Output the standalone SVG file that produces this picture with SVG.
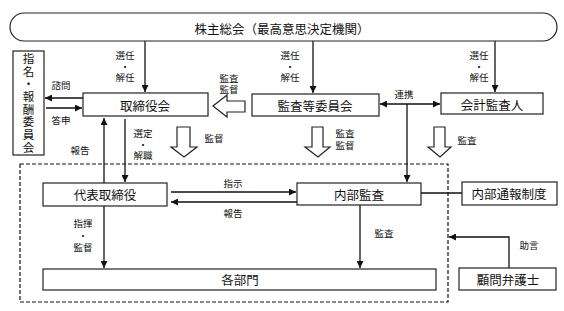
<svg xmlns="http://www.w3.org/2000/svg" width="564" height="311" viewBox="0 0 564 311">
<defs>
<style>
text{font-family:"Noto Sans CJK JP","Noto Sans CJK SC",sans-serif;fill:#111;}
.b{font-size:12.5px;text-anchor:middle;dominant-baseline:central;}
.v{font-size:11.5px;text-anchor:middle;writing-mode:vertical-rl;letter-spacing:1.2px;}
.s{font-family:"Liberation Sans","Noto Sans CJK JP",sans-serif;font-size:9.5px;text-anchor:middle;dominant-baseline:central;}
.box{fill:#fff;stroke:#222;stroke-width:1.2;}
.ln{fill:none;stroke:#111;stroke-width:1.3;}
.blk{fill:#fff;stroke:#222;stroke-width:1.2;stroke-linejoin:miter;}
.dash{fill:none;stroke:#111;stroke-width:1.2;stroke-dasharray:4,2;}
</style>
<marker id="ah" viewBox="0 0 10 10" refX="10" refY="5" markerWidth="7" markerHeight="7" markerUnits="userSpaceOnUse" orient="auto-start-reverse">
<path d="M0,0 L10,5 L0,10 z" fill="#111"/>
</marker>
</defs>
<rect width="564" height="311" fill="#fff"/>

<rect class="dash" x="20" y="164" width="428" height="138"/>

<g id="connectors">
<line class="ln" x1="145" y1="41" x2="145" y2="92" marker-end="url(#ah)"/>
<line class="ln" x1="313" y1="41" x2="313" y2="93" marker-end="url(#ah)"/>
<line class="ln" x1="495" y1="41" x2="495" y2="92" marker-end="url(#ah)"/>
<line class="ln" x1="83" y1="98" x2="45" y2="98" marker-end="url(#ah)"/>
<line class="ln" x1="46" y1="108" x2="82" y2="108" marker-end="url(#ah)"/>
<line class="ln" x1="380" y1="104" x2="440" y2="104" marker-start="url(#ah)" marker-end="url(#ah)"/>
<line class="ln" x1="407" y1="104" x2="407" y2="182" marker-end="url(#ah)"/>
<line class="ln" x1="104" y1="183" x2="104" y2="118" marker-end="url(#ah)"/>
<line class="ln" x1="125" y1="119" x2="125" y2="182" marker-end="url(#ah)"/>
<line class="ln" x1="171" y1="192" x2="296" y2="192" marker-end="url(#ah)"/>
<line class="ln" x1="297" y1="202" x2="171" y2="202" marker-end="url(#ah)"/>
<line class="ln" x1="421" y1="193" x2="462" y2="193"/>
<line class="ln" x1="104" y1="206" x2="104" y2="268" marker-end="url(#ah)"/>
<line class="ln" x1="360" y1="205" x2="360" y2="268" marker-end="url(#ah)"/>
<polyline class="ln" points="509,268 509,237 449,237" marker-end="url(#ah)"/>
<path class="blk" d="M213,106 L227,95 L227,101 L245,101 L245,112 L227,112 L227,117 Z"/>
<path class="blk" d="M177,127 L190,127 L190,147 L197,147 L184,157 L171,147 L177,147 Z"/>
<path class="blk" d="M312,127 L323,127 L323,147 L330,147 L318,157 L305,147 L312,147 Z"/>
<path class="blk" d="M434,127 L445,127 L445,147 L451,147 L440,157 L428,147 L434,147 Z"/>
</g>

<g id="shareholders">
<rect class="box" x="10" y="13" width="547" height="28" rx="14" ry="14"/>
<text class="b" x="282" y="28">株主総会（最高意思決定機関）</text>
</g>
<g id="nomination">
<rect class="box" x="13" y="51" width="31" height="104"/>
<text class="v" x="28.5" y="103.5">指名・報酬委員会</text>
</g>
<g id="board">
<rect class="box" x="83" y="93" width="125" height="23"/>
<text class="b" x="145" y="105">取締役会</text>
</g>
<g id="auditcommittee">
<rect class="box" x="252" y="94" width="127" height="22"/>
<text class="b" x="315" y="105">監査等委員会</text>
</g>
<g id="accountingauditor">
<rect class="box" x="441" y="93" width="102" height="21"/>
<text class="b" x="492" y="104">会計監査人</text>
</g>
<g id="representative">
<rect class="box" x="43" y="183" width="124" height="23"/>
<text class="b" x="105" y="194.5">代表取締役</text>
</g>
<g id="internalaudit">
<rect class="box" x="297" y="183" width="124" height="22"/>
<text class="b" x="359" y="194">内部監査</text>
</g>
<g id="whistleblowing">
<rect class="box" x="462" y="182" width="95" height="23"/>
<text class="b" x="509" y="193.5">内部通報制度</text>
</g>
<g id="departments">
<rect class="box" x="43" y="269" width="393" height="21"/>
<text class="b" x="240" y="279.5">各部門</text>
</g>
<g id="lawyer">
<rect class="box" x="459" y="268" width="97" height="22"/>
<text class="b" x="508" y="279">顧問弁護士</text>
</g>

<g id="labels">
<text class="s" x="125" y="55"><tspan x="125" y="55">選任</tspan><tspan x="125" y="66">・</tspan><tspan x="125" y="77">解任</tspan></text>
<text class="s" x="290" y="55"><tspan x="290" y="55">選任</tspan><tspan x="290" y="66">・</tspan><tspan x="290" y="77">解任</tspan></text>
<text class="s" x="479" y="55"><tspan x="479" y="55">選任</tspan><tspan x="479" y="66">・</tspan><tspan x="479" y="77">解任</tspan></text>
<text class="s" x="61" y="85">諮問</text>
<text class="s" x="61" y="120">答申</text>
<text class="s" x="229" y="78"><tspan x="229" y="78">監査</tspan><tspan x="229" y="89">監督</tspan></text>
<text class="s" x="404" y="94">連携</text>
<text class="s" x="80" y="150">報告</text>
<text class="s" x="143" y="133"><tspan x="143" y="133">選定</tspan><tspan x="143" y="144">・</tspan><tspan x="143" y="155">解職</tspan></text>
<text class="s" x="214" y="138">監督</text>
<text class="s" x="345" y="133"><tspan x="345" y="133">監査</tspan><tspan x="345" y="145">監督</tspan></text>
<text class="s" x="467" y="140">監査</text>
<text class="s" x="233" y="183">指示</text>
<text class="s" x="233" y="213">報告</text>
<text class="s" x="83" y="223"><tspan x="83" y="223">指揮</tspan><tspan x="83" y="235">・</tspan><tspan x="83" y="247">監督</tspan></text>
<text class="s" x="384" y="233">監査</text>
<text class="s" x="529" y="245">助言</text>
</g>
</svg>
